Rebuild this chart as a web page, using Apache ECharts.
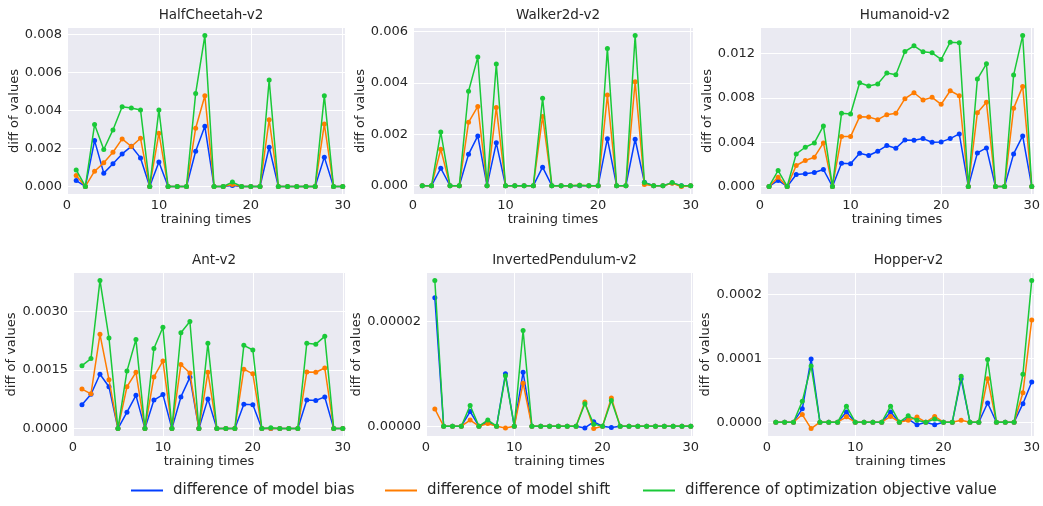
<!DOCTYPE html>
<html>
<head>
<meta charset="utf-8">
<script src="https://cdn.jsdelivr.net/npm/echarts@6/dist/echarts.min.js"></script>
<style>
  html, body { margin: 0; padding: 0; background: #fff; }
  #chart { width: 1043px; height: 506px; }
</style>
</head>
<body>
<div id="chart"></div>
<script>
// training step (x) for every panel
const steps = [1, 2, 3, 4, 5, 6, 7, 8, 9, 10, 11, 12, 13, 14, 15, 16, 17, 18, 19, 20, 21, 22, 23, 24, 25, 26, 27, 28, 29, 30];
const xTicks = [0, 10, 20, 30];

const seriesNames = ['difference of model bias', 'difference of model shift', 'difference of optimization objective value'];
const colors = ['#023eff', '#ff7c00', '#1ac938'];

// HalfCheetah-v2
const halfCheetahBias = [0.00031, 0, 0.00241, 0.0007, 0.00119, 0.00171, 0.00211, 0.0015, 0, 0.00128, 0, 0, 0, 0.00185, 0.00316, 0, 0, 0.00005, 0, 0, 0, 0.00206, 0, 0, 0, 0, 0, 0.00154, 0, 0];
const halfCheetahShift = [0.00058, 0, 0.0008, 0.00124, 0.0018, 0.0025, 0.0021, 0.00253, 0, 0.0028, 0, 0, 0, 0.00306, 0.00477, 0, 0, 0.0001, 0, 0, 0, 0.00351, 0, 0, 0, 0, 0, 0.00328, 0, 0];
const halfCheetahObj = [0.00087, 0, 0.00325, 0.00194, 0.00297, 0.00419, 0.00412, 0.00402, 0, 0.00402, 0, 0, 0, 0.00489, 0.00793, 0, 0, 0.00023, 0, 0, 0, 0.00559, 0, 0, 0, 0, 0, 0.00477, 0, 0];
const halfCheetahTicks = [0, 0.002, 0.004, 0.006, 0.008];

// Walker2d-v2
const walkerBias = [0, 0, 0.00068, 0, 0, 0.00122, 0.00194, 0, 0.00167, 0, 0, 0, 0, 0.00072, 0, 0, 0, 0, 0, 0, 0.00183, 0, 0, 0.00181, 0.00013, 0, 0, 0.0001, 0, 0];
const walkerShift = [0, 0, 0.00142, 0, 0, 0.00247, 0.00309, 0, 0.00305, 0, 0, 0, 0, 0.0027, 0, 0, 0, 0.00002, 0, 0, 0.00353, 0, 0, 0.00405, 0.00005, 0, 0, 0.00009, -0.00003, 0];
const walkerObj = [0, 0, 0.00209, 0, 0, 0.00368, 0.00501, 0, 0.00474, 0, 0, 0, 0, 0.00341, 0, 0, 0, 0.00002, 0, 0, 0.00535, 0, 0, 0.00585, 0.00012, 0, 0, 0.00012, 0, 0];
const walkerTicks = [0, 0.002, 0.004, 0.006];

// Humanoid-v2
const humanoidBias = [0, 0.00054, 0, 0.00108, 0.00114, 0.00126, 0.00153, 0, 0.0021, 0.00204, 0.003, 0.00279, 0.00318, 0.00369, 0.00345, 0.0042, 0.00417, 0.00432, 0.00399, 0.00402, 0.00432, 0.00474, 0, 0.00303, 0.00348, 0, 0, 0.00294, 0.00456, 0];
const humanoidShift = [0, 0.00084, 0, 0.00189, 0.00234, 0.00264, 0.00393, 0, 0.0045, 0.0045, 0.0063, 0.00627, 0.00603, 0.00648, 0.0066, 0.00792, 0.00846, 0.0078, 0.00804, 0.00741, 0.00864, 0.00819, 0, 0.00666, 0.00759, 0, 0, 0.00705, 0.00903, 0];
const humanoidObj = [0, 0.00144, 0, 0.00294, 0.00354, 0.00393, 0.00546, 0, 0.0066, 0.00654, 0.00936, 0.00906, 0.00924, 0.01023, 0.01008, 0.01218, 0.01269, 0.01215, 0.01206, 0.01146, 0.01302, 0.01296, 0, 0.00969, 0.01107, 0, 0, 0.01005, 0.01362, 0];
const humanoidTicks = [0, 0.004, 0.008, 0.012];

// Ant-v2
const antBias = [0.00061, 0.00088, 0.00139, 0.00107, 0, 0.00042, 0.00085, 0, 0.00073, 0.00087, 0, 0.00081, 0.00131, 0, 0.00076, 0, 0, 0, 0.00062, 0.00061, 0, 0, 0, 0, 0, 0.00073, 0.00072, 0.00081, 0, 0];
const antShift = [0.00101, 0.00089, 0.00241, 0.00125, 0, 0.00107, 0.00144, 0, 0.00132, 0.00173, 0, 0.00164, 0.00142, 0, 0.00144, 0, 0, 0, 0.00152, 0.0014, 0, 0, 0, 0, 0, 0.00145, 0.00144, 0.00155, 0, 0];
const antObj = [0.00161, 0.00179, 0.00379, 0.00232, 0, 0.00147, 0.00228, 0, 0.00205, 0.00259, 0, 0.00245, 0.00274, 0, 0.00218, 0, 0, 0, 0.00213, 0.00201, 0, 0.00002, 0, 0, 0, 0.00218, 0.00216, 0.00236, 0, 0];
const antTicks = [0, 0.0015, 0.003];

// InvertedPendulum-v2
const pendulumBias = [2.45e-5, 0, 0, 0, 2.8e-6, 0, 8.4e-7, 0, 1.0e-5, 0, 1.03e-5, 0, 0, 0, 0, 0, 0, -3.2e-7, 8.4e-7, 0, -2.6e-7, 0, 0, 0, 0, 0, 0, 0, 0, 0];
const pendulumShift = [3.3e-6, 0, 0, 0, 1.17e-6, 0, 5.2e-7, 0, -3.2e-7, 0, 8.2e-6, 0, 0, 0, 0, 0, 0, 4.6e-6, -4.5e-7, 0, 5.4e-6, 0, 0, 0, 0, 0, 0, 0, 0, 0];
const pendulumObj = [2.78e-5, 0, 0, 0, 3.96e-6, 0, 1.17e-6, 0, 9.6e-6, 0, 1.825e-5, 0, 0, 0, 0, 0, 0, 4.3e-6, 4e-7, 0, 4.9e-6, 0, 0, 0, 0, 0, 0, 0, 0, 0];
const pendulumTicks = [0, 0.00002];

// Hopper-v2
const hopperBias = [0, 0, 0, 2.1e-5, 9.9e-5, 0, 0, 0, 1.6e-5, 0, 0, 0, 0, 1.6e-5, 0, 5e-6, -4e-6, 0, -4e-6, 0, 0, 6.8e-5, 0, 0, 3.0e-5, 0, 0, 0, 2.9e-5, 6.3e-5];
const hopperShift = [0, 0, 0, 1.2e-5, -1.0e-5, 0, 0, 0, 8.5e-6, 0, 0, 0, 0, 9e-6, 0, 3e-6, 8e-6, 0, 9e-6, 0, 0, 3e-6, 0, 0, 6.8e-5, 0, 0, 0, 4.6e-5, 1.6e-4];
const hopperObj = [0, 0, 0, 3.3e-5, 8.8e-5, 0, 0, 0, 2.5e-5, 0, 0, 0, 0, 2.5e-5, 0, 1.0e-5, 3e-6, 0, 5e-6, 0, 0, 7.2e-5, 0, 0, 9.8e-5, 0, 0, 0, 7.5e-5, 2.22e-4];
const hopperTicks = [0, 0.0001, 0.0002];

const panels = [
  { title: 'HalfCheetah-v2', data: [halfCheetahBias, halfCheetahShift, halfCheetahObj], ticks: halfCheetahTicks, digits: 3,
    box: { left: 67, top: 28, width: 278, height: 166 }, nameGap: 45 },
  { title: 'Walker2d-v2', data: [walkerBias, walkerShift, walkerObj], ticks: walkerTicks, digits: 3,
    box: { left: 413, top: 28, width: 280, height: 166 }, nameGap: 44 },
  { title: 'Humanoid-v2', data: [humanoidBias, humanoidShift, humanoidObj], ticks: humanoidTicks, digits: 3,
    box: { left: 760, top: 28, width: 280, height: 166 }, nameGap: 43 },
  { title: 'Ant-v2', data: [antBias, antShift, antObj], ticks: antTicks, digits: 4,
    box: { left: 73, top: 273, width: 272, height: 163 }, nameGap: 53 },
  { title: 'InvertedPendulum-v2', data: [pendulumBias, pendulumShift, pendulumObj], ticks: pendulumTicks, digits: 5,
    box: { left: 426, top: 273, width: 267, height: 163 }, nameGap: 57 },
  { title: 'Hopper-v2', data: [hopperBias, hopperShift, hopperObj], ticks: hopperTicks, digits: 4,
    box: { left: 767, top: 273, width: 273, height: 163 }, nameGap: 52 }
];

const textColor = '#262626';
const fontFamily = 'DejaVu Sans';

// matplotlib style 5% data margins
const yRange = (arrays) => {
  const all = [].concat(...arrays);
  const lo = Math.min(...all), hi = Math.max(...all);
  const pad = (hi - lo) * 0.05;
  return [lo - pad, hi + pad];
};

const chart = echarts.init(document.getElementById('chart'));

const grids = [], xAxes = [], yAxes = [], titles = [], series = [];

panels.forEach((p, i) => {
  grids.push(Object.assign({ show: true, backgroundColor: '#eaeaf2', borderWidth: 0 }, p.box));

  titles.push({
    text: p.title,
    left: p.box.left + p.box.width / 2,
    top: p.box.top - 25,
    textAlign: 'center',
    textStyle: { fontFamily, fontSize: 13.5, fontWeight: 'normal', color: textColor }
  });

  xAxes.push({
    type: 'value', gridIndex: i, min: 0, max: 30.25,
    name: 'training times', nameLocation: 'middle', nameGap: 19,
    nameTextStyle: { fontFamily, fontSize: 13, color: textColor },
    axisLine: { show: false },
    axisTick: { show: false, customValues: xTicks },
    axisLabel: { customValues: xTicks, margin: 5, fontFamily, fontSize: 13, color: textColor },
    splitLine: { show: true, lineStyle: { color: '#ffffff', width: 1 } }
  });

  const [ymin, ymax] = yRange(p.data);
  yAxes.push({
    type: 'value', gridIndex: i, min: ymin, max: ymax,
    name: 'diff of values', nameLocation: 'middle', nameGap: p.nameGap,
    nameTextStyle: { fontFamily, fontSize: 13, color: textColor },
    axisLine: { show: false },
    axisTick: { show: false, customValues: p.ticks },
    axisLabel: {
      customValues: p.ticks, margin: 5, fontFamily, fontSize: 13, color: textColor,
      formatter: v => Number(v).toFixed(p.digits)
    },
    splitLine: { show: true, lineStyle: { color: '#ffffff', width: 1 } }
  });

  p.data.forEach((arr, k) => {
    series.push({
      name: seriesNames[k],
      type: 'line',
      xAxisIndex: i,
      yAxisIndex: i,
      data: steps.map((x, j) => [x, arr[j]]),
      symbol: 'circle',
      symbolSize: 5,
      color: colors[k],
      lineStyle: { width: 1.5 },
      z: 2 + k
    });
  });
});

const legendLefts = [131, 385, 643];
const legends = seriesNames.map((name, k) => ({
  data: [name],
  left: legendLefts[k],
  top: 483,
  padding: 0,
  icon: 'rect',
  itemWidth: 32,
  itemHeight: 2,
  textStyle: { fontFamily, fontSize: 15, color: textColor, padding: [0, 0, 0, 5] }
}));

chart.setOption({
  animation: false,
  backgroundColor: '#ffffff',
  title: titles,
  legend: legends,
  grid: grids,
  xAxis: xAxes,
  yAxis: yAxes,
  series
});
</script>
</body>
</html>
